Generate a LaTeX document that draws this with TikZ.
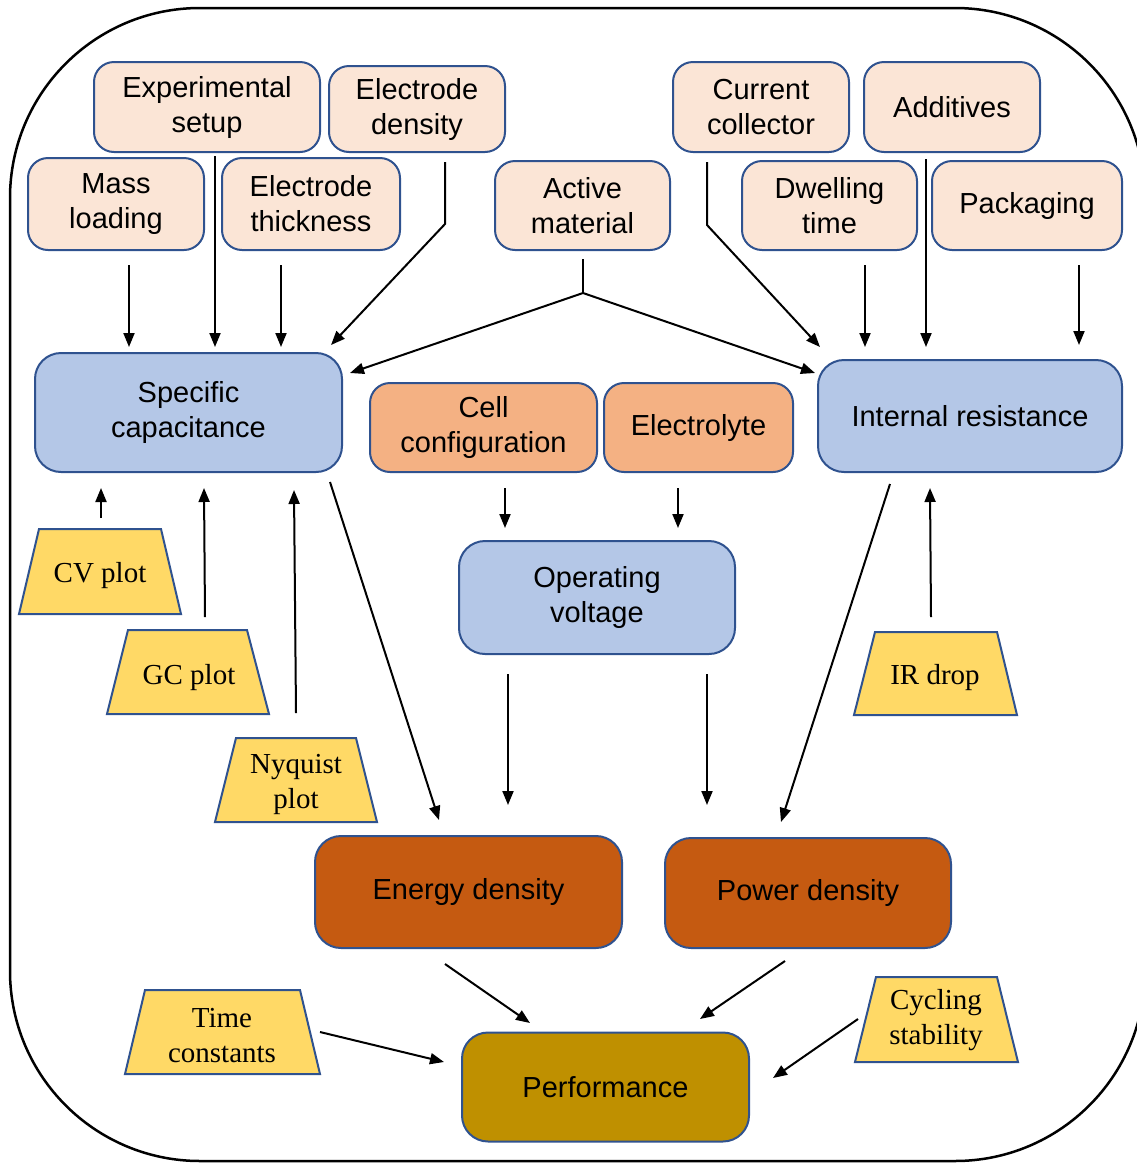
\documentclass[tikz,border=0pt]{standalone}
\usepackage{fontspec}
\setmainfont{Liberation Serif}
\setsansfont{Liberation Sans}
\usetikzlibrary{arrows.meta}
\definecolor{peach}{HTML}{FBE5D6}
\definecolor{lblue}{HTML}{B4C7E7}
\definecolor{lorange}{HTML}{F4B183}
\definecolor{dorange}{HTML}{C55A11}
\definecolor{gold}{HTML}{BF9000}
\definecolor{ylw}{HTML}{FFD966}
\definecolor{edge}{HTML}{2F528F}
\tikzset{
  box/.style={draw=edge, line width=2pt, rounded corners=20pt, align=center,
    font=\sffamily\fontsize{29}{35}\selectfont, inner sep=0pt},
  pbox/.style={box, fill=peach},
  bbox/.style={box, fill=lblue, rounded corners=26pt},
  obox/.style={box, fill=lorange},
  dbox/.style={box, fill=dorange, rounded corners=26pt},
  gbox/.style={box, fill=gold, rounded corners=26pt},
  trap/.style={draw=edge, line width=2pt, fill=ylw},
  traptext/.style={align=center, font=\rmfamily\fontsize{29}{35}\selectfont, inner sep=0pt},
  arr/.style={line width=2pt, -{Triangle[length=14pt,width=11pt]}},
  ln/.style={line width=2pt}
}
\begin{document}
\begin{tikzpicture}[x=1pt,y=-1pt]
\useasboundingbox (0,0) rectangle (1137,1163);
\begin{scope}
\clip (0,0) rectangle (1137,1163);
\draw[line width=2.5pt, rounded corners=190pt] (10,8) rectangle (1145,1161);
\end{scope}

% top parameter boxes
\node[pbox, minimum width=226pt, minimum height=90pt] (es) at (207,107) {Experimental\\setup};
\node[pbox, minimum width=176pt, minimum height=86pt] (ed) at (417,109) {Electrode\\density};
\node[pbox, minimum width=176pt, minimum height=92pt] (ml) at (116,204) {Mass\\loading};
\node[pbox, minimum width=178pt, minimum height=92pt] (et) at (311,204) {Electrode\\thickness};
\node[pbox, minimum width=175pt, minimum height=89pt] (am) at (582.5,205.5) {Active\\material};
\node[pbox, minimum width=176pt, minimum height=90pt] (cc) at (761,107) {Current\\collector};
\node[pbox, minimum width=176pt, minimum height=90pt] (ad) at (952,107) {Additives};
\node[pbox, minimum width=175pt, minimum height=89pt] (dt) at (829.5,205.5) {Dwelling\\time};
\node[pbox, minimum width=190pt, minimum height=89pt] (pk) at (1027,205.5) {Packaging};

% middle
\node[bbox, minimum width=307pt, minimum height=119pt] (sc) at (188.5,412.5) {Specific\\capacitance};
\node[obox, minimum width=227pt, minimum height=89pt] (cf) at (483.5,427.5) {Cell\\configuration};
\node[obox, minimum width=189pt, minimum height=89pt] (el) at (698.5,427.5) {Electrolyte};
\node[bbox, minimum width=304pt, minimum height=112pt] (ir) at (970,416) {Internal resistance};
\node[bbox, minimum width=276pt, minimum height=113pt] (ov) at (597,597.5) {Operating\\voltage};
\node[dbox, minimum width=307pt, minimum height=112pt] (en) at (468.5,892) {Energy density};
\node[dbox, minimum width=286pt, minimum height=110pt] (pw) at (808,893) {Power density};
\node[gbox, minimum width=287pt, minimum height=109pt] (pf) at (605.5,1087) {Performance};

% trapezoids
\draw[trap] (39,529) -- (161,529) -- (181,614) -- (19,614) -- cycle;
\node[traptext] (cv) at (100,576) {CV plot};
\draw[trap] (128,630) -- (247,630) -- (269,714) -- (107,714) -- cycle;
\node[traptext] (gc) at (189,678) {GC plot};
\draw[trap] (236,738) -- (356,738) -- (377,822) -- (215,822) -- cycle;
\node[traptext] (nq) at (296,784) {Nyquist\\plot};
\draw[trap] (875,632) -- (997,632) -- (1017,715) -- (854,715) -- cycle;
\node[traptext] (ird) at (935,678) {IR drop};
\draw[trap] (145,990) -- (300,990) -- (320,1074) -- (125,1074) -- cycle;
\node[traptext] (tc) at (222,1036) {Time\\constants};
\draw[trap] (876,977) -- (997,977) -- (1018,1062) -- (855,1062) -- cycle;
\node[traptext] (cs) at (936,1020) {Cycling\\stability};

% connector end points
\coordinate (mlA) at (129,265); \coordinate (mlB) at (129,347);
\coordinate (esA) at (215,156); \coordinate (esB) at (215,347);
\coordinate (etA) at (281,265); \coordinate (etB) at (281,347);
\coordinate (edA) at (445,162); \coordinate (edK) at (445,224); \coordinate (edB) at (331,345);
\coordinate (amA) at (583,259); \coordinate (amK) at (583,293);
\coordinate (amL) at (350,373); \coordinate (amR) at (815,373);
\coordinate (ccA) at (707,162); \coordinate (ccK) at (707,225); \coordinate (ccB) at (820,347);
\coordinate (dtA) at (865,265); \coordinate (dtB) at (865,347);
\coordinate (adA) at (926,159); \coordinate (adB) at (926,347);
\coordinate (pkA) at (1079,265); \coordinate (pkB) at (1079,345);
\coordinate (cvA) at (101,518); \coordinate (cvB) at (101,488);
\coordinate (gcA) at (205,617); \coordinate (gcB) at (204,488);
\coordinate (nqA) at (296,713); \coordinate (nqB) at (294,490);
\coordinate (scA) at (330,482); \coordinate (scB) at (439,820);
\coordinate (cfA) at (505,488); \coordinate (cfB) at (505,528);
\coordinate (elA) at (678,488); \coordinate (elB) at (678,528);
\coordinate (ovA) at (508,674); \coordinate (ovB) at (508,805);
\coordinate (ovC) at (707,674); \coordinate (ovD) at (707,805);
\coordinate (irA) at (890,484); \coordinate (irB) at (781,822);
\coordinate (irdA) at (931,617); \coordinate (irdB) at (930,488);
\coordinate (enA) at (445,964); \coordinate (enB) at (530,1023);
\coordinate (pwA) at (785,961); \coordinate (pwB) at (700,1019);
\coordinate (tcA) at (320,1032); \coordinate (tcB) at (444,1062);
\coordinate (csA) at (858,1019); \coordinate (csB) at (773,1078);

% connectors
\draw[arr] (mlA) -- (mlB);
\draw[arr] (esA) -- (esB);
\draw[arr] (etA) -- (etB);
\draw[arr] (edA) -- (edK) -- (edB);
\draw[ln] (amA) -- (amK);
\draw[arr] (amK) -- (amL);
\draw[arr] (amK) -- (amR);
\draw[arr] (ccA) -- (ccK) -- (ccB);
\draw[arr] (dtA) -- (dtB);
\draw[arr] (adA) -- (adB);
\draw[arr] (pkA) -- (pkB);
\draw[arr] (cvA) -- (cvB);
\draw[arr] (gcA) -- (gcB);
\draw[arr] (nqA) -- (nqB);
\draw[arr] (scA) -- (scB);
\draw[arr] (cfA) -- (cfB);
\draw[arr] (elA) -- (elB);
\draw[arr] (ovA) -- (ovB);
\draw[arr] (ovC) -- (ovD);
\draw[arr] (irA) -- (irB);
\draw[arr] (irdA) -- (irdB);
\draw[arr] (enA) -- (enB);
\draw[arr] (pwA) -- (pwB);
\draw[arr] (tcA) -- (tcB);
\draw[arr] (csA) -- (csB);
\end{tikzpicture}
\end{document}
